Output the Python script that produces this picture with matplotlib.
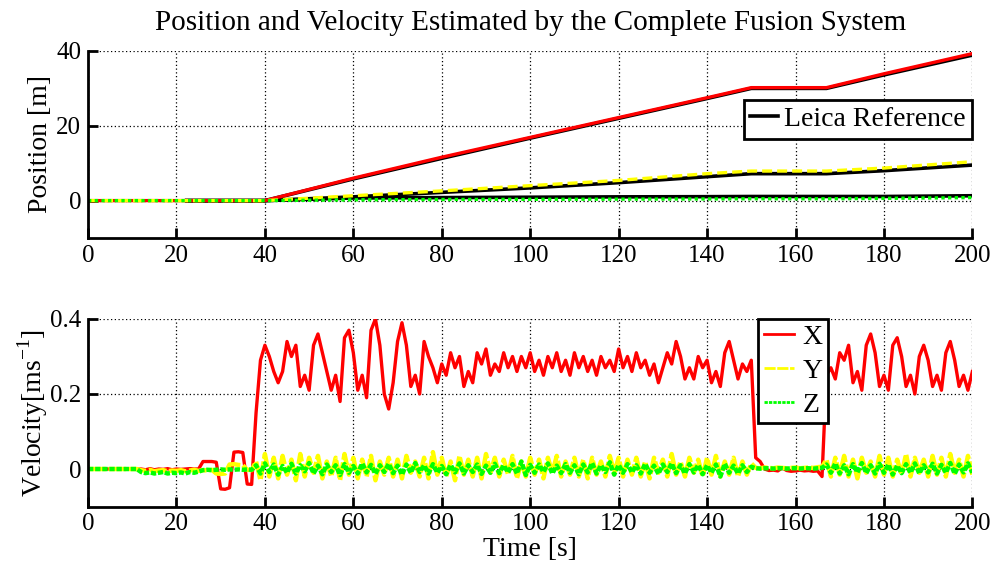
import numpy as np
import matplotlib
matplotlib.use("Agg")
import matplotlib.pyplot as plt

plt.rcParams["font.family"] = ["Liberation Serif", "DejaVu Serif"]
plt.rcParams["mathtext.fontset"] = "custom"
plt.rcParams["mathtext.rm"] = "Liberation Serif"

# --- position (top panel), piecewise readings ---
pos_t = [0, 22.3, 40, 60, 80, 100, 120, 140, 150, 167, 180, 200]
est_x = [0, 0, 0, 6.0, 11.6, 16.9, 22.2, 27.5, 30.2, 30.2, 33.9, 39.3]
est_y = [0, 0, 0, 1.3, 2.6, 4.0, 5.4, 7.2, 7.9, 7.9, 8.7, 10.4]
est_z = [0, 0, 0, 0.2, 0.3, 0.35, 0.4, 0.45, 0.5, 0.5, 0.6, 0.8]

ref_t = [22.3, 40, 60, 80, 100, 120, 140, 150, 167, 180, 200]
ref_x = [0, 0, 5.8, 11.3, 16.7, 22.0, 27.3, 30.0, 30.0, 33.6, 38.9]
ref_y = [0, 0, 1.0, 2.2, 3.4, 4.8, 6.4, 7.2, 7.2, 8.0, 9.5]
ref_z = [0, 0, 0.7, 0.8, 0.9, 1.0, 1.05, 1.1, 1.1, 1.1, 1.3]

# --- velocity (bottom panel), one reading per second, t = 0..200 ---
vel_x = [
    0, 0, 0, 0, 0, 0, 0, 0, 0, 0,
    0, 0, 0, -0.002, 0.001, -0.002, 0, -0.001, 0.001, -0.002,
    0, -0.001, 0, 0.001, 0, 0, 0.02, 0.02, 0.02, 0.018,
    -0.053, -0.054, -0.05, 0.045, 0.046, 0.044, -0.04, -0.041, 0.15, 0.29,
    0.33, 0.30, 0.26, 0.23, 0.26, 0.34, 0.30, 0.33, 0.22, 0.25,
    0.21, 0.33, 0.36, 0.31, 0.26, 0.21, 0.25, 0.18, 0.35, 0.37,
    0.31, 0.21, 0.25, 0.19, 0.37, 0.40, 0.33, 0.20, 0.16, 0.23,
    0.34, 0.39, 0.33, 0.22, 0.25, 0.20, 0.34, 0.30, 0.27, 0.23,
    0.28, 0.25, 0.31, 0.27, 0.30, 0.22, 0.26, 0.23, 0.31, 0.28,
    0.32, 0.25, 0.28, 0.26, 0.31, 0.27, 0.30, 0.26, 0.30, 0.27,
    0.31, 0.26, 0.29, 0.25, 0.30, 0.27, 0.31, 0.26, 0.29, 0.25,
    0.31, 0.27, 0.30, 0.26, 0.29, 0.25, 0.30, 0.27, 0.29, 0.26,
    0.32, 0.27, 0.30, 0.26, 0.31, 0.27, 0.29, 0.25, 0.28, 0.23,
    0.27, 0.31, 0.28, 0.34, 0.30, 0.24, 0.27, 0.24, 0.30, 0.27,
    0.29, 0.23, 0.26, 0.22, 0.31, 0.34, 0.29, 0.24, 0.28, 0.26,
    0.29, 0.03, 0.02, 0.0, -0.004, -0.003, -0.005, 0.003, -0.004, -0.006,
    -0.005, -0.003, -0.005, -0.004, -0.006, -0.005, -0.02, 0.25, 0.27, 0.24,
    0.31, 0.29, 0.33, 0.23, 0.26, 0.21, 0.33, 0.36, 0.31, 0.22,
    0.25, 0.21, 0.33, 0.35, 0.30, 0.22, 0.25, 0.20, 0.30, 0.33,
    0.29, 0.22, 0.25, 0.21, 0.31, 0.34, 0.29, 0.22, 0.25, 0.21,
    0.26,
]
vel_y = [
    0, 0, 0, 0, 0, 0, 0, 0, 0, 0,
    0, 0, -0.003, -0.005, -0.002, -0.006, -0.004, -0.003, -0.006, -0.004,
    -0.005, -0.003, -0.006, -0.004, -0.002, -0.005, -0.003, -0.004, -0.002, -0.012,
    -0.013, -0.012, 0.012, 0.013, 0.011, 0.01, -0.002, -0.003, 0.02, -0.03,
    0.04, -0.02, 0.03, -0.025, 0.035, -0.015, 0.025, -0.03, 0.04, -0.02,
    0.03, -0.01, 0.035, -0.025, 0.02, -0.02, 0.03, -0.03, 0.04, -0.015,
    0.03, -0.025, 0.025, -0.02, 0.035, -0.03, 0.02, -0.015, 0.03, -0.02,
    0.025, -0.025, 0.035, -0.01, 0.02, -0.02, 0.03, -0.025, 0.045, -0.015,
    0.03, -0.02, 0.02, -0.03, 0.035, -0.015, 0.025, -0.02, 0.03, -0.025,
    0.04, -0.01, 0.03, -0.02, 0.025, -0.015, 0.035, -0.025, 0.02, -0.02,
    0.03, -0.015, 0.025, -0.025, 0.03, -0.01, 0.035, -0.02, 0.02, -0.015,
    0.03, -0.02, 0.025, -0.025, 0.03, -0.015, 0.02, -0.02, 0.035, -0.01,
    0.03, -0.02, 0.025, -0.015, 0.03, -0.02, 0.02, -0.025, 0.03, -0.01,
    0.025, -0.02, 0.04, -0.015, 0.02, -0.02, 0.03, -0.01, 0.025, -0.02,
    0.03, -0.015, 0.035, -0.02, 0.02, -0.015, 0.03, -0.02, 0.02, -0.015,
    0.015, 0.003, 0.002, 0.004, 0.003, 0.002, 0.004, 0.003, 0.002, 0.003,
    0.004, 0.002, 0.003, 0.004, 0.003, 0.005, 0.006, 0.025, -0.02, 0.03,
    -0.015, 0.035, -0.02, 0.025, -0.025, 0.03, -0.01, 0.02, -0.02, 0.035,
    -0.015, 0.03, -0.02, 0.025, -0.015, 0.04, -0.02, 0.03, -0.01, 0.025,
    -0.02, 0.035, -0.015, 0.03, -0.02, 0.04, -0.01, 0.025, -0.02, 0.035,
    -0.015,
]
vel_z = [
    0, 0, 0, 0, 0, 0, 0, 0, 0, 0,
    0, 0, -0.008, -0.011, -0.009, -0.012, -0.01, -0.008, -0.012, -0.01,
    -0.011, -0.009, -0.012, -0.008, -0.01, -0.007, -0.003, -0.002, -0.003, -0.002,
    -0.001, -0.002, -0.001, -0.002, -0.001, -0.002, -0.001, -0.002, 0.01, -0.012,
    0.015, -0.008, 0.012, -0.015, 0.008, -0.01, 0.014, -0.012, 0.01, -0.006,
    0.016, -0.012, 0.009, -0.014, 0.012, -0.008, 0.01, -0.016, 0.013, -0.01,
    0.008, -0.012, 0.015, -0.009, 0.011, -0.013, 0.01, -0.008, 0.014, -0.011,
    0.009, -0.015, 0.012, -0.01, 0.016, -0.008, 0.01, -0.012, 0.013, -0.01,
    0.008, -0.014, 0.011, -0.009, 0.015, -0.012, 0.01, -0.008, 0.012, -0.013,
    0.009, -0.01, 0.014, -0.011, 0.01, -0.009, 0.013, -0.012, 0.02, -0.016,
    0.011, -0.01, 0.012, -0.008, 0.015, -0.012, 0.009, -0.011, 0.013, -0.01,
    0.01, -0.014, 0.012, -0.009, 0.016, -0.012, 0.01, -0.008, 0.018, -0.015,
    0.011, -0.01, 0.013, -0.009, 0.01, -0.012, 0.014, -0.01, 0.009, -0.013,
    0.012, -0.008, 0.015, -0.011, 0.01, -0.012, 0.013, -0.009, 0.011, -0.014,
    0.01, -0.01, 0.012, -0.02, 0.014, -0.01, 0.009, -0.012, 0.01, -0.008,
    0.006, 0.002, 0.001, 0.002, 0.002, 0.001, 0.002, 0.002, 0.001, 0.002,
    0.002, 0.001, 0.002, 0.002, 0.001, 0.002, 0.003, 0.012, -0.01, 0.015,
    -0.012, 0.01, -0.014, 0.013, -0.009, 0.016, -0.011, 0.01, -0.012, 0.014,
    -0.01, 0.012, -0.015, 0.009, -0.011, 0.013, -0.01, 0.015, -0.012, 0.01,
    -0.009, 0.014, -0.012, 0.011, -0.01, 0.016, -0.013, 0.012, -0.009, 0.015,
    -0.01,
]
vel_t = np.arange(len(vel_x))

x_ticks = np.arange(0, 201, 20)
YELLOW = "#ffff00"
GREEN = "#00ff00"


def style_axes(ax, yticks, ylim):
    ax.set_xlim(0, 200)
    ax.set_ylim(*ylim)
    ax.set_xticks(x_ticks)
    ax.set_yticks(yticks)
    ax.grid(True, color="black", linestyle=(0, (1, 2)), linewidth=0.9)
    ax.spines["top"].set_visible(False)
    ax.spines["right"].set_visible(False)
    for s in ("left", "bottom"):
        ax.spines[s].set_linewidth(2)
    ax.tick_params(direction="in", length=7, width=2, labelsize=18, pad=5)


fig = plt.figure(figsize=(9.97, 5.69), dpi=100)
ax1 = fig.add_axes([0.0883, 0.5817, 0.887, 0.3287])
ax2 = fig.add_axes([0.0883, 0.1098, 0.887, 0.3296])

# top: position
ax1.plot(ref_t, ref_x, color="black", lw=2.6, label="Leica Reference")
ax1.plot(ref_t, ref_y, color="black", lw=2.6)
ax1.plot(ref_t, ref_z, color="black", lw=2.6)
ax1.plot(pos_t, est_x, color="red", lw=2.4)
ax1.plot(pos_t, est_y, color=YELLOW, lw=2.4, linestyle=(0, (3, 1.5)))
ax1.plot(pos_t, est_z, color=GREEN, lw=2.4, linestyle=(0, (1, 1)))
style_axes(ax1, [0, 20, 40], (-10, 40))
ax1.set_ylabel("Position [m]", fontsize=20, labelpad=2)
leg1 = ax1.legend(loc="upper right", bbox_to_anchor=(1.0, 0.74), fontsize=20,
                  fancybox=False, framealpha=1, edgecolor="black",
                  handlelength=1.0, handletextpad=0.2, borderpad=0.25,
                  borderaxespad=0)
leg1.get_frame().set_linewidth(2)
ax1.set_title("Position and Velocity Estimated by the Complete Fusion System",
              fontsize=21, pad=15)

# bottom: velocity
ax2.plot(vel_t, vel_x, color="red", lw=2.4, label="X")
ax2.plot(vel_t, vel_y, color=YELLOW, lw=3.2, linestyle=(0, (4, 0.6)), label="Y")
ax2.plot(vel_t, vel_z, color=GREEN, lw=3.2, linestyle=(0, (1.2, 0.4)), label="Z")
style_axes(ax2, [0, 0.2, 0.4], (-0.1, 0.4))
ax2.set_yticklabels(["0", "0.2", "0.4"])
ax2.set_ylabel(r"Velocity[ms$^{\mathregular{-1}}$]", fontsize=20, labelpad=0)
ax2.set_xlabel("Time [s]", fontsize=20, labelpad=1)
leg2 = ax2.legend(loc="upper left", bbox_to_anchor=(0.758, 1.0), fontsize=20,
                  fancybox=False, framealpha=1, edgecolor="black",
                  handlelength=1.1, handletextpad=0.3, borderpad=0.2,
                  borderaxespad=0, labelspacing=0.3)
for h in leg2.get_lines():
    h.set_linewidth(2)
leg2.get_frame().set_linewidth(2)

fig.savefig("out.png", dpi=100)
